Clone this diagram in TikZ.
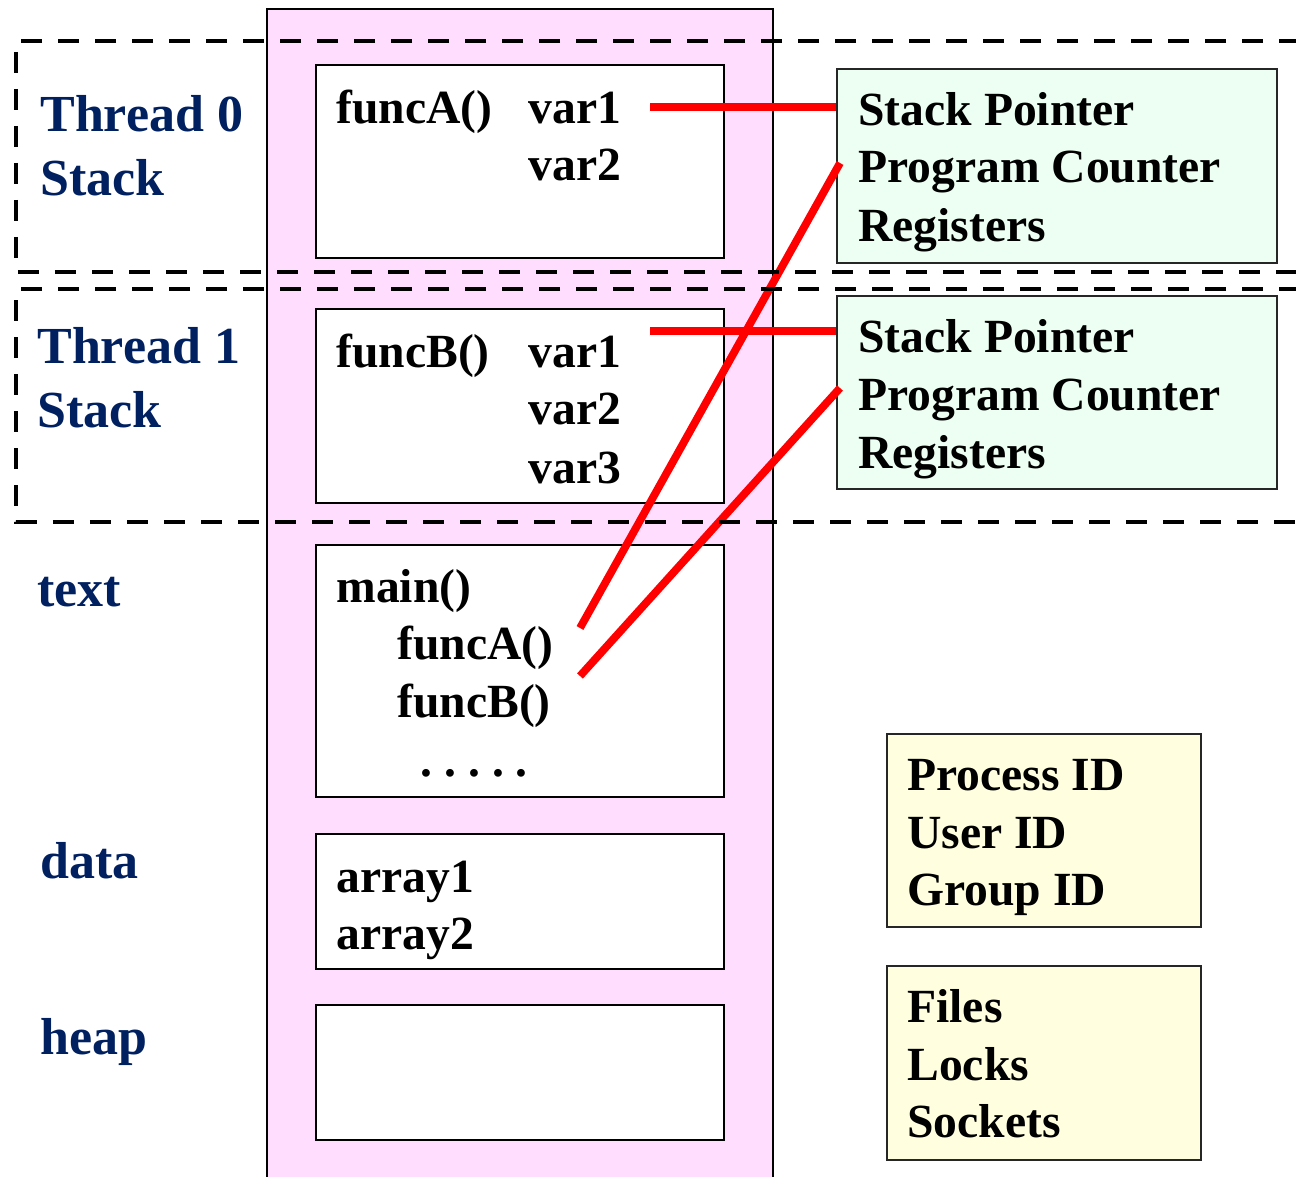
\documentclass[tikz,border=0pt]{standalone}
\usepackage{fontspec}
\setmainfont{Liberation Serif}
\usetikzlibrary{fit}
\definecolor{navy}{RGB}{0,32,96}
\definecolor{pinkc}{RGB}{255,221,255}
\definecolor{greenc}{RGB}{236,255,242}
\definecolor{yellowc}{RGB}{255,255,224}
\tikzset{
  wbox/.style={draw=black, line width=1pt, fill=white, inner sep=0pt},
  gbox/.style={draw=black!85, line width=1pt, fill=greenc, inner sep=0pt},
  ybox/.style={draw=black!85, line width=1pt, fill=yellowc, inner sep=0pt},
  txt/.style={anchor=base west, inner sep=0pt, font=\fontsize{23.8pt}{28pt}\selectfont\bfseries},
  lbl/.style={anchor=base west, inner sep=0pt, text=navy, font=\fontsize{26pt}{30pt}\selectfont\bfseries},
  redline/.style={draw=red, line width=3.9pt},
  dashline/.style={draw=black, line width=2.1pt, dash pattern=on 10.5pt off 8pt}
}
\begin{document}
\begin{tikzpicture}[x=0.5pt,y=-0.5pt]
\useasboundingbox (0,0) rectangle (1296,1177);
\clip (0,0) rectangle (1296,1177);
% address space column
\filldraw[fill=pinkc, draw=black, line width=1pt] (267,1200) -- (267,9) -- (773,9) -- (773,1200);
% white boxes
\node[wbox, fit={(316,65) (724,258)}] (b1) {};
\node[wbox, fit={(316,309) (724,503)}] (b2) {};
\node[wbox, fit={(316,545) (724,797)}] (b3) {};
\node[wbox, fit={(316,834) (724,969)}] (b4) {};
\node[wbox, fit={(316,1005) (724,1140)}] (b5) {};
% register boxes
\node[gbox, fit={(837,69) (1277,263)}] (gA) {};
\node[gbox, fit={(837,296) (1277,489)}] (gB) {};
% process boxes
\node[ybox, fit={(887,734) (1201,927)}] (yC) {};
\node[ybox, fit={(887,966) (1201,1160)}] (yD) {};
% labels
\node[lbl] (l0a) at (40,132) {Thread 0};
\node[lbl] (l0b) at (40,196) {Stack};
\node[lbl] (l1a) at (37,363) {Thread 1};
\node[lbl] (l1b) at (37,427) {Stack};
\node[lbl] (ltext) at (37,606) {text};
\node[lbl] (ldata) at (40,878) {data};
\node[lbl] (lheap) at (40,1054) {heap};
% box 1
\node[txt] (fa) at (336,124) {funcA()};
\node[txt] (a1) at (528,124) {var1};
\node[txt] (a2) at (528,181) {var2};
% box 2
\node[txt] (fb) at (336,367) {funcB()};
\node[txt] (c1) at (528,367) {var1};
\node[txt] (c2) at (528,424) {var2};
\node[txt] (c3) at (528,483) {var3};
% box 3
\node[txt] (mn) at (336,602) {main()};
\node[txt] (mfa) at (397,659) {funcA()};
\node[txt] (mfb) at (397,717) {funcB()};
\node[txt] (dots) at (420,776) {.\hspace{6pt}.\hspace{6pt}.\hspace{6pt}.\hspace{6pt}.};
% box 4
\node[txt] (ar1) at (336,892) {array1};
\node[txt] (ar2) at (336,949) {array2};
% green texts
\node[txt] (ga1) at (858,126) {Stack Pointer};
\node[txt] (ga2) at (858,183) {Program Counter};
\node[txt] (ga3) at (858,241) {Registers};
\node[txt] (gb1) at (858,352) {Stack Pointer};
\node[txt] (gb2) at (858,410) {Program Counter};
\node[txt] (gb3) at (858,468) {Registers};
% yellow texts
\node[txt] (yc1) at (907,790) {Process ID};
\node[txt] (yc2) at (907,848) {User ID};
\node[txt] (yc3) at (907,905) {Group ID};
\node[txt] (yd1) at (907,1022) {Files};
\node[txt] (yd2) at (907,1080) {Locks};
\node[txt] (yd3) at (907,1137) {Sockets};
% connectors
\coordinate (sA) at (650,107);
\coordinate (sB) at (650,331);
\coordinate (pA) at (580,628);
\coordinate (pB) at (580,676);
\coordinate (eA) at (840,163);
\coordinate (eB) at (840,388);
\draw[redline] (sA) -- (gA.west |- sA);
\draw[redline] (sB) -- (gB.west |- sB);
\draw[redline] (pA) -- (eA);
\draw[redline] (pB) -- (eB);
% thread stack regions
\draw[dashline] (1300,41) -| (16,272) -- (1300,272);
\draw[dashline] (1300,289) -| (16,522) -- (1300,522);
\end{tikzpicture}
\end{document}
